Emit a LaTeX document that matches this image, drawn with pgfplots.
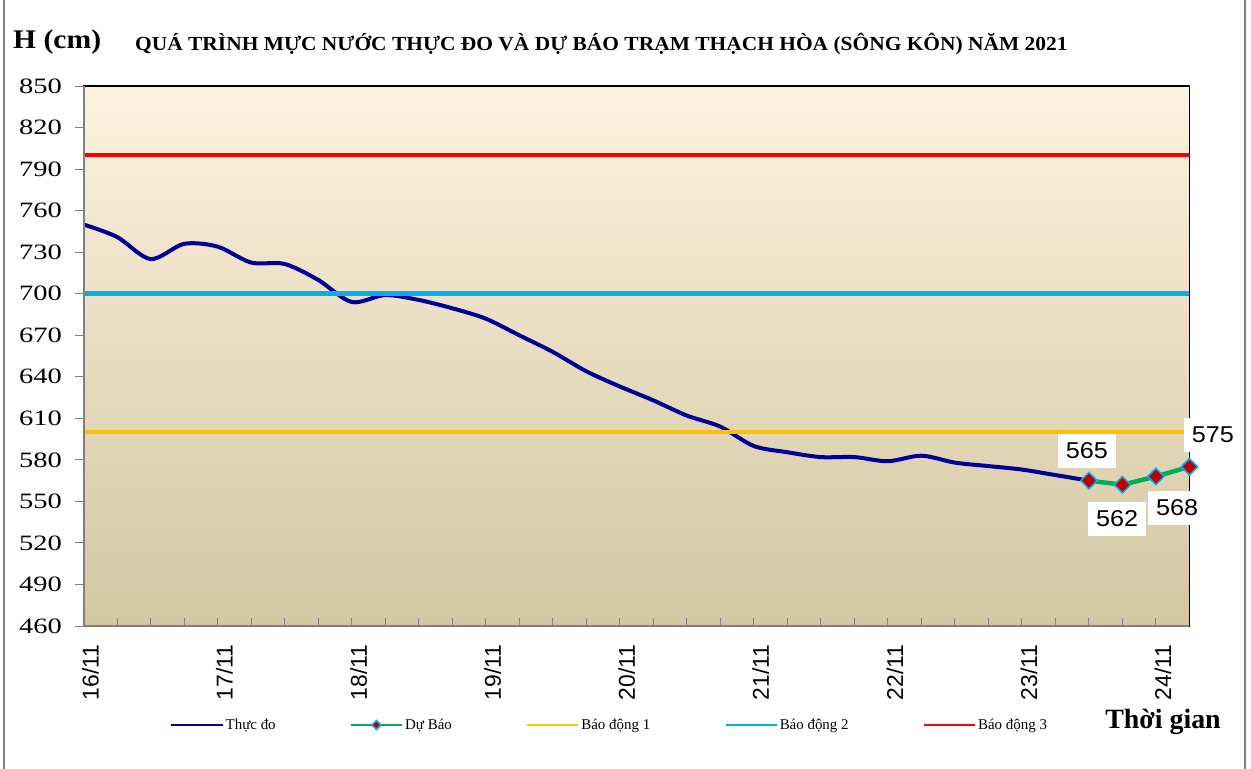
\documentclass[border=0pt]{standalone}
\usepackage{pgfplots}
\pgfplotsset{compat=1.18}
\usepackage{fontspec}
\setmainfont{Liberation Serif}
\newfontfamily\arial{Liberation Sans}
\newfontfamily\tnrw[FakeStretch=1.3]{Liberation Serif}
\newfontfamily\arialw[FakeStretch=1.1]{Liberation Sans}
\definecolor{obsblue}{RGB}{0,0,153}
\definecolor{fcgreen}{RGB}{0,176,80}
\definecolor{mkred}{RGB}{192,0,0}
\definecolor{mkcyan}{RGB}{0,176,240}
\definecolor{al1}{RGB}{255,192,0}
\definecolor{al2}{RGB}{0,176,240}
\definecolor{al3}{RGB}{255,0,0}
\definecolor{bgtop}{RGB}{252,242,222}
\definecolor{bgbot}{RGB}{212,198,162}
\definecolor{axgray}{RGB}{128,128,128}
\begin{document}
\begin{tikzpicture}
\useasboundingbox (0,0) rectangle (1251bp,-769bp);
\fill[white] (0,0) rectangle (1251bp,-769bp);
\draw[axgray, line width=1.5bp] (4bp,0) -- (4bp,-769bp);
\draw[axgray, line width=1.5bp] (1245bp,0) -- (1245bp,-769bp);
\node[anchor=west, font=\bfseries\fontsize{27}{27}\selectfont, inner sep=0] at (13bp,-42bp) {\scalebox{1.1}[1]{H (cm)}};
\node[anchor=west, font=\bfseries\fontsize{20}{20}\selectfont, inner sep=0] at (135bp,-44bp) {\scalebox{1.076}[1]{QUÁ TRÌNH MỰC NƯỚC THỰC ĐO VÀ DỰ BÁO TRẠM THẠCH HÒA (SÔNG KÔN) NĂM 2021}};
\node[font=\bfseries\fontsize{28}{28}\selectfont, inner sep=0] at (1163bp,-722bp) {Thời gian};
\begin{axis}[
  at={(83.5bp,-626bp)}, anchor=south west,
  scale only axis, width=1106bp, height=540bp,
  xmin=0, xmax=33, ymin=460, ymax=850,
  axis background/.style={top color=bgtop, bottom color=bgbot},
  axis line style={black, line width=1.2bp},
  xtick={0,4,...,32},
  xticklabels={16/11,17/11,18/11,19/11,20/11,21/11,22/11,23/11,24/11},
  minor xtick={0,...,33},
  ytick={460,490,...,850},
  yticklabel={\tnrw\pgfmathprintnumber[assume math mode=true]{\tick}},
  xtick pos=bottom, ytick pos=left,
  xtick align=inside, ytick align=outside,
  major tick length=8bp, minor tick length=8bp,
  every tick/.style={axgray, line width=1bp},
  x tick label style={rotate=90, anchor=east, font=\arial\fontsize{23}{23}\selectfont, xshift=-15bp, yshift=-7bp},
  y tick label style={font=\fontsize{22}{22}\selectfont, xshift=-10bp},
  legend columns=5,
  legend style={at={(0.0782,-0.1833)}, anchor=west, draw=none, fill=none, inner sep=0pt,
    font=\fontsize{15}{15}\selectfont,
    /tikz/every even column/.append style={column sep=72bp}},
  legend cell align=left,
  legend image code/.code={\draw[#1, line width=2.5bp, mark size=3.2bp, mark repeat=2, mark phase=2] plot coordinates {(0bp,0bp) (25.5bp,0bp) (51bp,0bp)};},
]
\addplot[obsblue, line width=4bp, smooth, tension=0.5] coordinates {
(0,750) (1,741) (2,725) (3,736) (4,734) (5,722.5) (6,721.5) (7,710) (8,694) (9,699)
(10,695.5) (11,689.5) (12,682) (13,670) (14,658) (15,644) (16,633) (17,623) (18,612) (19,604)
(20,590) (21,585.5) (22,582) (23,582) (24,579) (25,583) (26,578) (27,575.5) (28,573) (29,569)
(30,565)};
\addlegendentry{Thực đo}
\addplot[fcgreen, line width=4.5bp, mark=square*, mark size=5.8bp,
  mark options={fill=mkred, draw=mkcyan, line width=1.5bp, rotate=45}] coordinates {
(30,565) (31,562) (32,568) (33,575)};
\addlegendentry{Dự Báo}
\addplot[al1, line width=4.5bp] coordinates {(0,600) (33,600)};
\addlegendentry{Báo động 1}
\addplot[al2, line width=4.5bp] coordinates {(0,700) (33,700)};
\addlegendentry{Báo động 2}
\addplot[al3, line width=4.5bp] coordinates {(0,800) (33,800)};
\addlegendentry{Báo động 3}
\coordinate (l565) at (axis cs:29.94,586.4);
\coordinate (l562) at (axis cs:30.84,537.3);
\coordinate (l568) at (axis cs:32.63,545.2);
\coordinate (l575) at (axis cs:33.70,597.9);
\coordinate (ll) at (rel axis cs:0,1);
\coordinate (lb) at (rel axis cs:0,0);
\coordinate (rb) at (rel axis cs:1,0);
\end{axis}
\draw[axgray, line width=2bp] (ll) -- (lb) -- (rb);
\tikzset{lab/.style={fill=white, font=\arialw\fontsize{23}{23}\selectfont, inner xsep=8bp, inner ysep=9bp}}
\node[lab] at (l565) {565};
\node[lab] at (l562) {562};
\node[lab] at (l568) {568};
\node[lab] at (l575) {575};
\end{tikzpicture}
\end{document}
